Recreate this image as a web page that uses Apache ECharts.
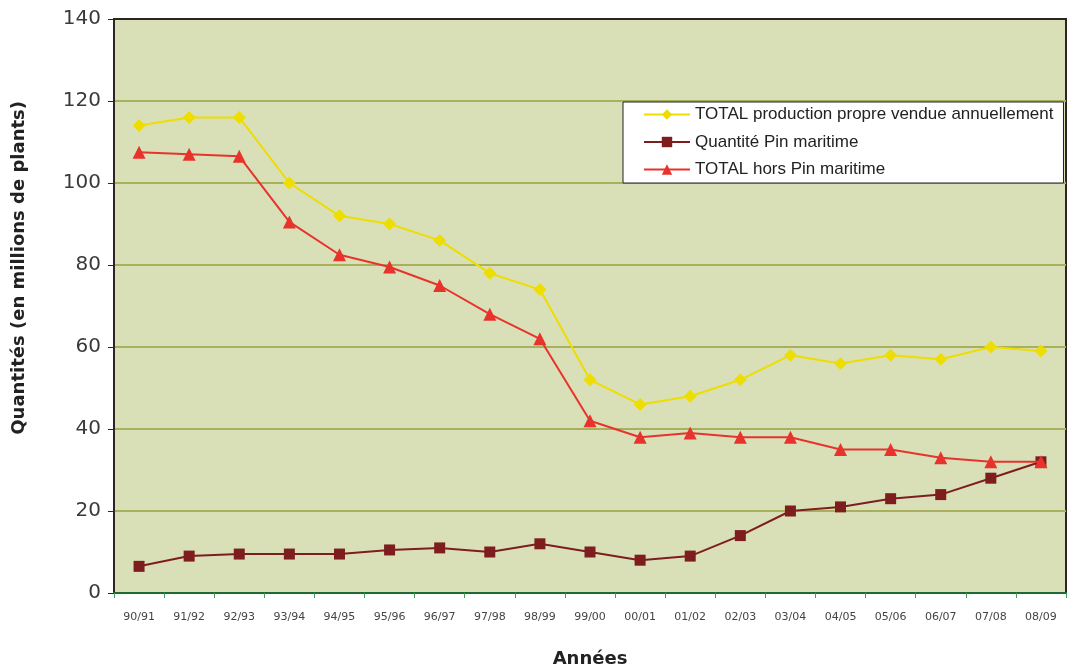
<!DOCTYPE html>
<html>
<head>
<meta charset="utf-8">
<script src="https://cdn.jsdelivr.net/npm/echarts@6/dist/echarts.min.js"></script>
<style>html,body{margin:0;padding:0;background:#fff}#c{width:1074px;height:668px}</style>
</head>
<body>
<div id="c"></div>
<script>
const categories = ['90/91','91/92','92/93','93/94','94/95','95/96','96/97','97/98','98/99','99/00','00/01','01/02','02/03','03/04','04/05','05/06','06/07','07/08','08/09'];
const totalProduction = [114,116,116,100,92,90,86,78,74,52,46,48,52,58,56,58,57,60,59];
const pinMaritime = [6.5,9,9.5,9.5,9.5,10.5,11,10,12,10,8,9,14,20,21,23,24,28,32];
const horsPin = [107.5,107,106.5,90.5,82.5,79.5,75,68,62,42,38,39,38,38,35,35,33,32,32];
const yTicks = [0,20,40,60,80,100,120,140];

const chart = echarts.init(document.getElementById('c'));
chart.setOption({
  animation: false,
  backgroundColor: '#ffffff',
  grid: {
    left: 114, right: 8, top: 19, bottom: 75,
    outerBoundsMode: 'none',
    containLabel: false,
    show: true, backgroundColor: '#d9e0b8', borderColor: '#2e2424', borderWidth: 2
  },
  legend: {
    orient: 'vertical',
    left: 623, top: 102,
    padding: [4, 10, 5, 20],
    itemGap: 10.5,
    itemWidth: 46, itemHeight: 13,
    backgroundColor: '#ffffff',
    borderColor: '#222', borderWidth: 1,
    textStyle: { fontFamily: 'Liberation Sans, Arial, sans-serif', fontSize: 17, color: '#222' },
    data: ['TOTAL production propre vendue annuellement','Quantité Pin maritime','TOTAL hors Pin maritime']
  },
  xAxis: {
    type: 'category',
    data: categories,
    boundaryGap: true,
    name: 'Années',
    nameLocation: 'middle',
    nameGap: 57,
    nameTextStyle: { fontFamily: 'DejaVu Sans, sans-serif', fontWeight: 'bold', fontSize: 18, color: '#222' },
    axisLine: { show: true, lineStyle: { color: '#1d6b33', width: 2 } },
    axisTick: { show: true, alignWithLabel: false, length: 5, lineStyle: { color: '#3aa35a', width: 1 } },
    axisLabel: { fontFamily: 'DejaVu Sans, sans-serif', fontSize: 11, color: '#444', margin: 19, interval: 0 },
    splitLine: { show: false }
  },
  yAxis: {
    type: 'value',
    min: 0, max: 140, interval: 20,
    axisLine: { show: true, lineStyle: { color: '#2e2424', width: 2 } },
    axisTick: { show: true, length: 6, lineStyle: { color: '#2e2424' } },
    axisLabel: {
      fontFamily: 'DejaVu Sans, sans-serif', fontSize: 20, color: '#3a3a3a', margin: 13,
      formatter: v => yTicks.includes(v) ? String(v) : ''
    },
    splitLine: { show: true, showMinLine: false, showMaxLine: false, lineStyle: { color: '#a9b05c', width: 2 } }
  },
  graphic: [{
    type: 'text',
    left: 10, top: 101,
    rotation: Math.PI / 2,
    style: {
      text: 'Quantités (en millions de plants)',
      font: 'bold 18px DejaVu Sans, sans-serif',
      fill: '#222'
    }
  }],
  series: [
    {
      name: 'TOTAL production propre vendue annuellement',
      type: 'line', data: totalProduction,
      symbol: 'diamond', symbolSize: 13,
      lineStyle: { color: '#eedd00', width: 2 },
      itemStyle: { color: '#eedd00' },
      z: 3
    },
    {
      name: 'Quantité Pin maritime',
      type: 'line', data: pinMaritime,
      symbol: 'rect', symbolSize: 11,
      lineStyle: { color: '#7d1d1e', width: 2 },
      itemStyle: { color: '#7d1d1e' },
      z: 4
    },
    {
      name: 'TOTAL hors Pin maritime',
      type: 'line', data: horsPin,
      symbol: 'triangle', symbolSize: 13,
      lineStyle: { color: '#e8332d', width: 2 },
      itemStyle: { color: '#e8332d' },
      z: 5
    }
  ]
});
</script>
</body>
</html>
